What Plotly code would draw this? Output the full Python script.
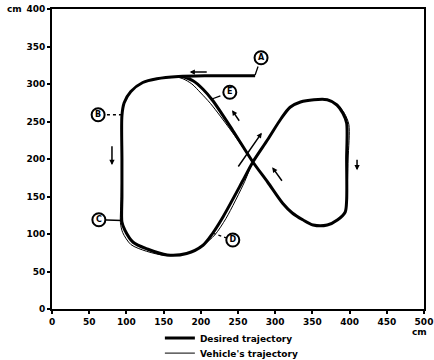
import plotly.graph_objects as go

# ---- data (cm) ----
desired_x = [273, 240, 205, 170, 141, 122, 106, 97, 94, 94, 94, 94, 98, 109, 128, 155, 181, 203, 216, 230,
             257, 270, 290, 308, 320, 334, 352, 370, 383, 391, 396, 396, 396, 394, 384, 370, 351, 337, 323,
             310, 290, 270, 243, 216, 203, 190, 176]
desired_y = [311, 311, 311, 310, 307, 302, 290, 275, 258, 200, 150, 116, 105, 89, 80, 72, 74, 85, 101, 123,
             172, 196, 226, 254, 269, 276, 279, 279, 272, 261, 248, 200, 145, 129, 119, 112, 112, 119, 128,
             141, 169, 196, 238, 278, 293, 304, 310]

vehicle_x = [273, 240, 205, 170, 141, 122, 106, 97, 94, 94, 93, 92, 95, 106, 127, 155, 181, 203, 219, 234,
             259, 270, 290, 308, 320, 334, 352, 370, 384, 393, 399, 398, 396, 394, 384, 370, 351, 337, 323,
             310, 290, 270, 242, 213, 200, 188, 176, 165]
vehicle_y = [311, 311, 311, 310, 307, 302, 290, 275, 258, 200, 150, 115, 102, 86, 77, 71, 74, 85, 99, 121,
             170, 196, 226, 254, 269, 276, 279, 279, 272, 261, 246, 200, 145, 129, 119, 112, 112, 119, 128,
             141, 169, 196, 236, 274, 288, 300, 307, 310]

x_ticks = [0, 50, 100, 150, 200, 250, 300, 350, 400, 450, 500]
y_ticks = [0, 50, 100, 150, 200, 250, 300, 350, 400]

label_names = ["A", "B", "C", "D", "E"]
label_x = [281, 62, 63, 243, 239]
label_y = [335, 259, 119, 92, 289]
leader_x = [273, 94, 94, 216, 215]
leader_y = [312, 259, 118, 101, 280]
leader_dash = ["dash", "dot", "solid", "dot", "dash"]

arrow_tail_x = [210, 80.6, 249, 253, 310.5, 410]
arrow_tail_y = [316, 219, 188, 249, 169, 201]
arrow_head_x = [185, 80.6, 282, 242, 296, 410]
arrow_head_y = [316, 192, 235, 265, 189, 185]

FONT = "DejaVu Sans"

fig = go.Figure()

fig.add_trace(go.Scatter(
    x=vehicle_x, y=vehicle_y, mode="lines", name="Vehicle's trajectory",
    line=dict(color="black", width=1, shape="spline", smoothing=0.8),
    legend="legend2", hoverinfo="skip"))
fig.add_trace(go.Scatter(
    x=desired_x, y=desired_y, mode="lines", name="Desired trajectory",
    line=dict(color="black", width=3, shape="spline", smoothing=0.8),
    legend="legend", hoverinfo="skip"))

for i in range(len(label_names)):
    fig.add_trace(go.Scatter(
        x=[leader_x[i], label_x[i]], y=[leader_y[i], label_y[i]], mode="lines",
        line=dict(color="black", width=1.3, dash=leader_dash[i]),
        showlegend=False, hoverinfo="skip"))

fig.add_trace(go.Scatter(
    x=label_x, y=label_y, mode="markers+text", text=label_names,
    textposition="middle center",
    textfont=dict(family=FONT, size=8, color="black", weight="bold"),
    marker=dict(symbol="circle", size=13, color="white",
                line=dict(color="black", width=2)),
    showlegend=False, hoverinfo="skip"))

for tx, ty, hx, hy in zip(arrow_tail_x, arrow_tail_y, arrow_head_x, arrow_head_y):
    fig.add_annotation(x=hx, y=hy, ax=tx, ay=ty, xref="x", yref="y", axref="x", ayref="y",
                       text="", showarrow=True, arrowhead=2, arrowsize=0.7, arrowwidth=1.5,
                       arrowcolor="black")

fig.add_annotation(x=-0.102, y=1.0, xref="paper", yref="paper", text="cm", showarrow=False,
                   font=dict(family=FONT, size=9, color="black", weight="bold"),
                   xanchor="center", yanchor="middle")
fig.add_annotation(x=0.987, y=-0.077, xref="paper", yref="paper", text="cm", showarrow=False,
                   font=dict(family=FONT, size=9, color="black", weight="bold"),
                   xanchor="center", yanchor="middle")

axis_common = dict(showgrid=False, zeroline=False, showline=True, linecolor="black", linewidth=2,
                   mirror=True, ticks="outside", ticklen=3, tickwidth=1.5, tickcolor="black",
                   tickfont=dict(family=FONT, size=9, color="black", weight="bold"))

fig.update_xaxes(range=[0, 500], tickvals=x_ticks, ticktext=[str(v) for v in x_ticks], **axis_common)
fig.update_yaxes(range=[0, 400], tickvals=y_ticks, ticktext=[str(v) for v in y_ticks], **axis_common)

legend_font = dict(family=FONT, size=9, color="black", weight="bold")
fig.update_layout(
    width=434, height=360,
    margin=dict(l=52, r=10, t=9, b=51, autoexpand=False),
    paper_bgcolor="white", plot_bgcolor="white",
    legend=dict(x=0.29, y=-0.097, xanchor="left", yanchor="middle", font=legend_font,
                bgcolor="rgba(0,0,0,0)", borderwidth=0),
    legend2=dict(x=0.29, y=-0.147, xanchor="left", yanchor="middle", font=legend_font,
                 bgcolor="rgba(0,0,0,0)", borderwidth=0),
)

fig.write_html("out.html")
